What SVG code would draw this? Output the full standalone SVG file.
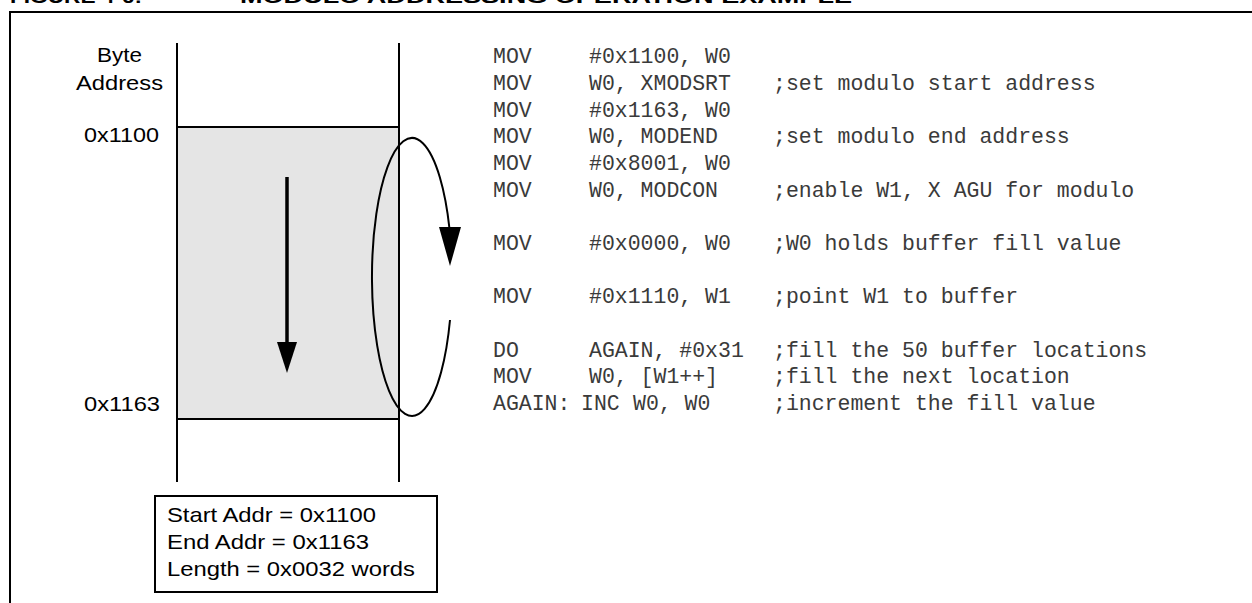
<svg xmlns="http://www.w3.org/2000/svg" width="1252" height="603" viewBox="0 0 1252 603">
  <style>
    .lbl { font-family: "Liberation Sans", Arial, sans-serif; font-size: 21px; fill: #000; }
    .ttl { font-family: "Liberation Sans", Arial, sans-serif; font-size: 19px; font-weight: bold; fill: #000; }
    .code { font-family: "Liberation Mono", "Courier New", monospace; font-size: 21.5px; fill: #3a3a3a; }
    .ln { stroke: #000; stroke-width: 2; fill: none; }
  </style>
  <rect width="1252" height="603" fill="#fff"/>

  <g id="title">
    <text class="ttl" x="10" y="3" textLength="132" lengthAdjust="spacingAndGlyphs">FIGURE 4-6:</text>
    <text class="ttl" x="240" y="3" textLength="612" lengthAdjust="spacingAndGlyphs">MODULO ADDRESSING OPERATION EXAMPLE</text>
  </g>

  <g id="frame">
    <path class="ln" d="M10,603 V12 H1260"/>
  </g>

  <g id="memory">
    <rect x="177" y="127" width="222" height="292" fill="#e5e5e5"/>
    <line class="ln" x1="177" y1="43" x2="177" y2="482"/>
    <line class="ln" x1="399" y1="43" x2="399" y2="482"/>
    <line class="ln" x1="177" y1="127" x2="399" y2="127"/>
    <line class="ln" x1="177" y1="419" x2="399" y2="419"/>
  </g>

  <g id="labels">
    <text class="lbl" x="97" y="62" textLength="45" lengthAdjust="spacingAndGlyphs">Byte</text>
    <text class="lbl" x="76" y="90" textLength="87" lengthAdjust="spacingAndGlyphs">Address</text>
    <text class="lbl" x="84" y="142" textLength="75" lengthAdjust="spacingAndGlyphs">0x1100</text>
    <text class="lbl" x="84" y="411" textLength="76" lengthAdjust="spacingAndGlyphs">0x1163</text>
  </g>

  <g id="connectors">
    <line x1="287" y1="177" x2="287" y2="345" stroke="#000" stroke-width="3.5"/>
    <polygon points="277,342 297,342 287,373" fill="#000"/>
    <path class="ln" d="M450,320 A40,139 0 1 1 449.4,228" stroke-width="2.4"/>
    <polygon points="439,227 461,227 450,266" fill="#000"/>
  </g>

  <g id="info-box">
    <rect class="ln" x="155" y="496" width="282" height="96" fill="#fff"/>
    <text class="lbl" x="167" y="522" textLength="209" lengthAdjust="spacingAndGlyphs">Start Addr = 0x1100</text>
    <text class="lbl" x="167" y="549" textLength="202" lengthAdjust="spacingAndGlyphs">End Addr = 0x1163</text>
    <text class="lbl" x="167" y="576" textLength="248" lengthAdjust="spacingAndGlyphs">Length = 0x0032 words</text>
  </g>

  <g id="code">
    <text class="code" x="493" y="63">MOV</text>
    <text class="code" x="589" y="63">#0x1100, W0</text>

    <text class="code" x="493" y="90">MOV</text>
    <text class="code" x="589" y="90">W0, XMODSRT</text>
    <text class="code" x="773" y="90">;set modulo start address</text>

    <text class="code" x="493" y="117">MOV</text>
    <text class="code" x="589" y="117">#0x1163, W0</text>

    <text class="code" x="493" y="143">MOV</text>
    <text class="code" x="589" y="143">W0, MODEND</text>
    <text class="code" x="773" y="143">;set modulo end address</text>

    <text class="code" x="493" y="170">MOV</text>
    <text class="code" x="589" y="170">#0x8001, W0</text>

    <text class="code" x="493" y="197">MOV</text>
    <text class="code" x="589" y="197">W0, MODCON</text>
    <text class="code" x="773" y="197">;enable W1, X AGU for modulo</text>

    <text class="code" x="493" y="250">MOV</text>
    <text class="code" x="589" y="250">#0x0000, W0</text>
    <text class="code" x="773" y="250">;W0 holds buffer fill value</text>

    <text class="code" x="493" y="303">MOV</text>
    <text class="code" x="589" y="303">#0x1110, W1</text>
    <text class="code" x="773" y="303">;point W1 to buffer</text>

    <text class="code" x="493" y="357">DO</text>
    <text class="code" x="589" y="357">AGAIN, #0x31</text>
    <text class="code" x="773" y="357">;fill the 50 buffer locations</text>

    <text class="code" x="493" y="383">MOV</text>
    <text class="code" x="589" y="383">W0, [W1++]</text>
    <text class="code" x="773" y="383">;fill the next location</text>

    <text class="code" x="493" y="410">AGAIN:</text>
    <text class="code" x="581" y="410">INC</text>
    <text class="code" x="633" y="410">W0, W0</text>
    <text class="code" x="773" y="410">;increment the fill value</text>
  </g>
</svg>
